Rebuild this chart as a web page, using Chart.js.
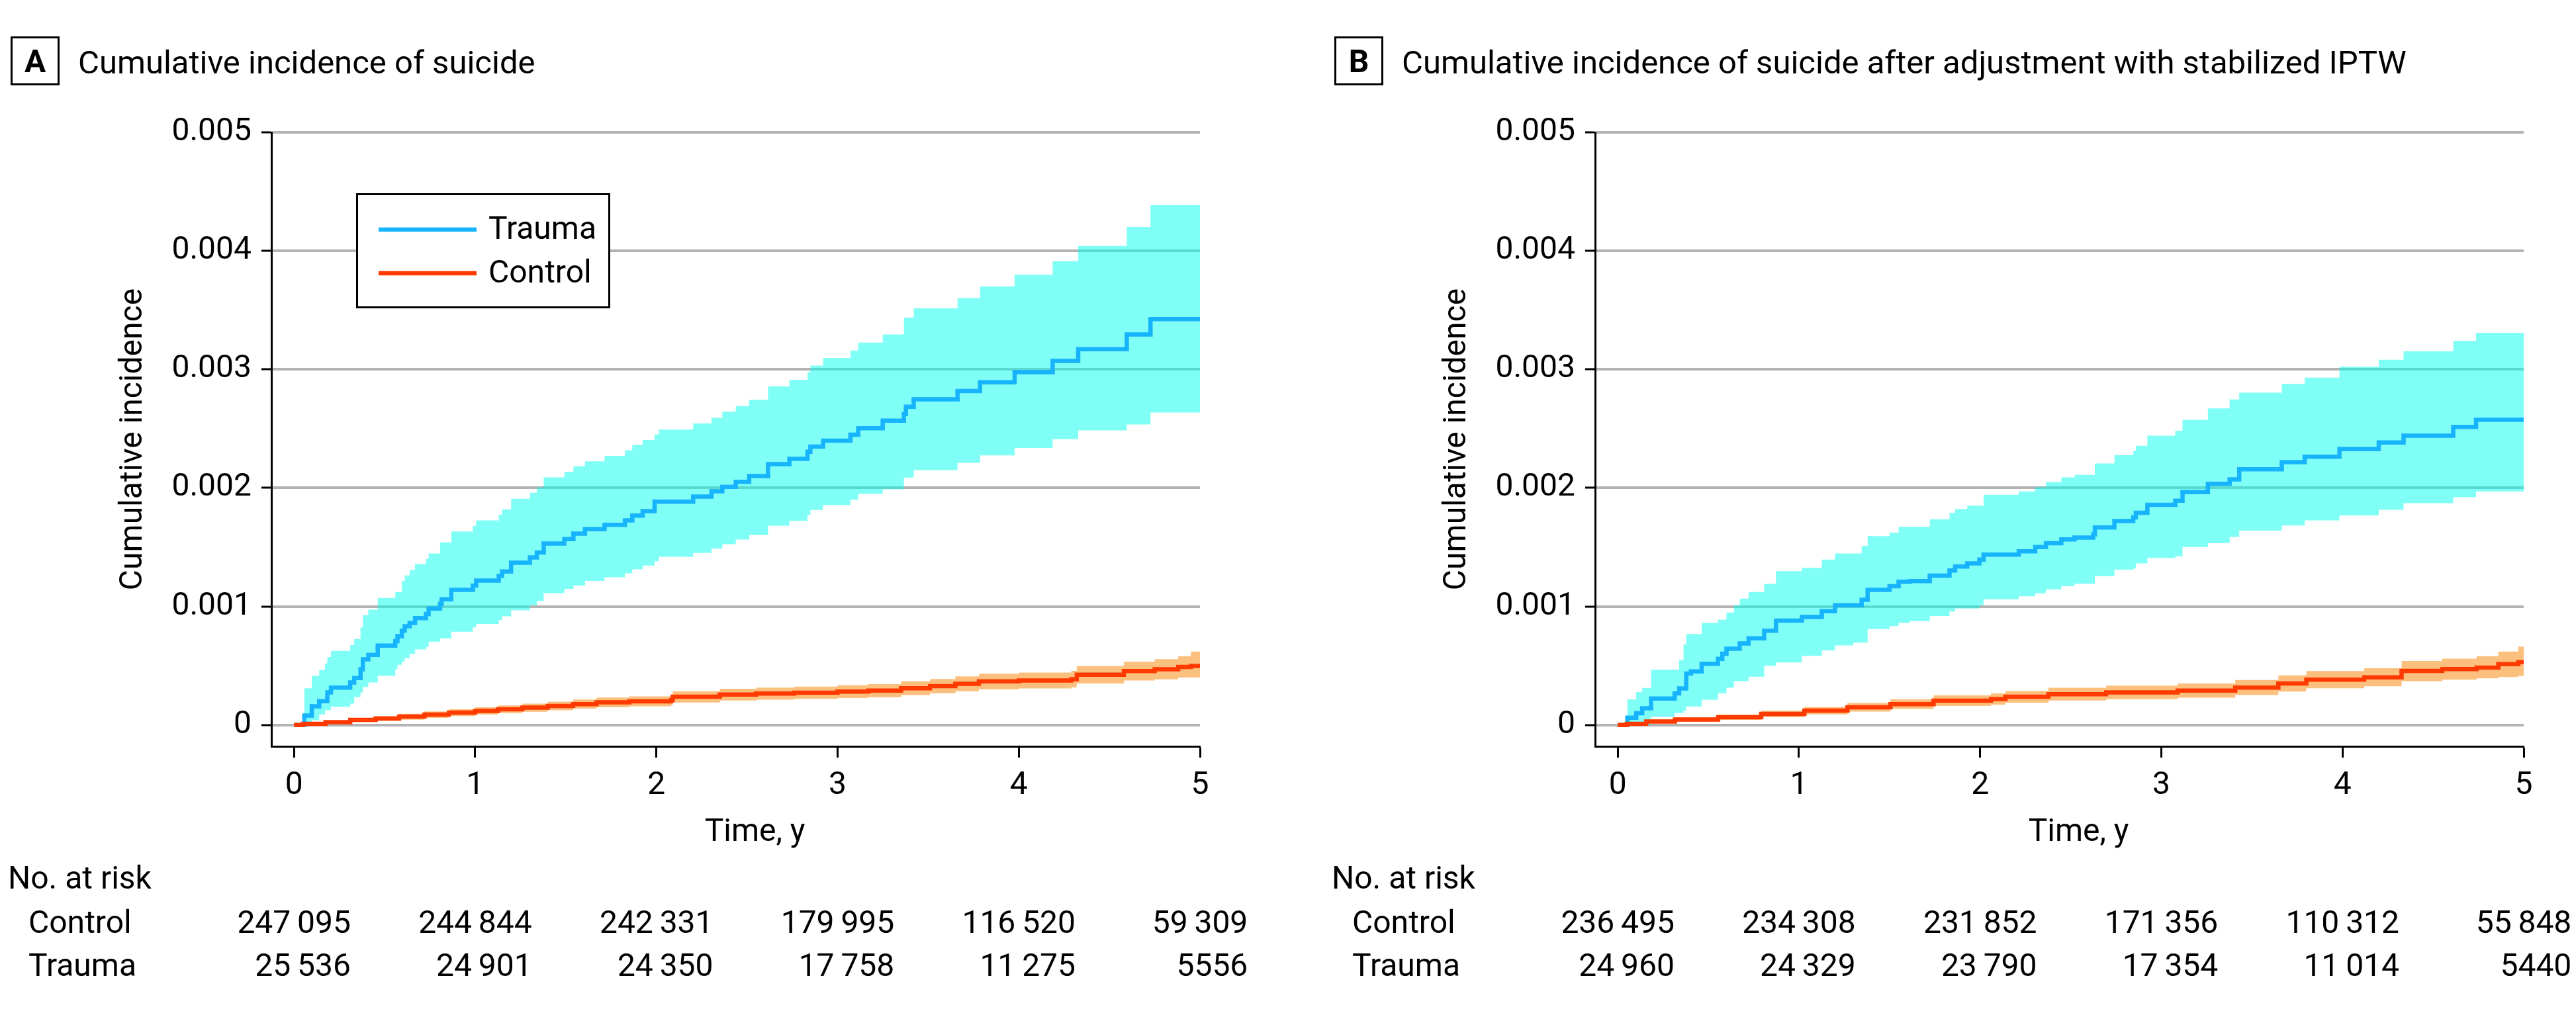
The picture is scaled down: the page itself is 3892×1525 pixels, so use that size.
<!DOCTYPE html>
<html><head><meta charset="utf-8">
<script src="https://cdn.jsdelivr.net/npm/chart.js@4.4.1/dist/chart.umd.min.js"></script>
<style>
html,body{margin:0;padding:0;background:#fff;}
#wrap{display:flex;width:3892px;height:1525px;}
canvas{display:block;}
</style></head><body>
<div id="wrap"><canvas id="cA" width="2000" height="1525"></canvas><canvas id="cB" width="1892" height="1525"></canvas></div>
<script>
// ---------- data (time in years, estimate, lower CI, upper CI) ----------
const traumaA = [
[0,0,0,0],[0.057,0.000080,0.000005,0.000310],[0.098,0.000158,0.000040,0.000415],[0.139,0.000201,0.000090,0.000465],
[0.171,0.000201,0.000126,0.000521],[0.184,0.000275,0.000126,0.000573],[0.204,0.000316,0.000153,0.000625],[0.310,0.000359,0.000180,0.000675],
[0.332,0.000396,0.000236,0.000725],[0.367,0.000470,0.000275,0.000824],[0.380,0.000554,0.000321,0.000926],[0.410,0.000592,0.000359,0.000973],
[0.462,0.000670,0.000415,0.001072],[0.559,0.000707,0.000470,0.001122],[0.571,0.000750,0.000508,0.001122],[0.595,0.000796,0.000536,0.001215],
[0.611,0.000833,0.000564,0.001261],[0.638,0.000861,0.000601,0.001308],[0.668,0.000902,0.000638,0.001358],[0.728,0.000936,0.000657,0.001401],
[0.743,0.000982,0.000703,0.001447],[0.806,0.001023,0.000731,0.001540],[0.815,0.001060,0.000731,0.001540],[0.868,0.001140,0.000787,0.001633],
[0.987,0.001177,0.000824,0.001680],[1.005,0.001218,0.000852,0.001726],[1.130,0.001257,0.000885,0.001773],[1.148,0.001295,0.000917,0.001819],
[1.198,0.001369,0.000967,0.001909],[1.302,0.001414,0.001010,0.001959],[1.340,0.001456,0.001047,0.002006],[1.378,0.001531,0.001112,0.002089],
[1.492,0.001568,0.001149,0.002136],[1.542,0.001614,0.001177,0.002182],[1.606,0.001652,0.001215,0.002225],[1.714,0.001689,0.001246,0.002270],
[1.826,0.001726,0.001280,0.002318],[1.867,0.001767,0.001313,0.002363],[1.924,0.001804,0.001345,0.002405],[1.990,0.001884,0.001382,0.002452],
[2.014,0.001884,0.001419,0.002493],[2.203,0.001927,0.001451,0.002544],[2.304,0.001972,0.001488,0.002591],[2.364,0.002009,0.001525,0.002643],
[2.438,0.002051,0.001565,0.002690],[2.512,0.002100,0.001603,0.002743],[2.616,0.002200,0.001682,0.002857],[2.734,0.002245,0.001722,0.002912],
[2.834,0.002305,0.001772,0.002977],[2.850,0.002349,0.001814,0.003032],[2.920,0.002399,0.001856,0.003096],[3.071,0.002449,0.001901,0.003159],
[3.114,0.002504,0.001951,0.003226],[3.249,0.002568,0.001988,0.003295],[3.366,0.002623,0.002088,0.003437],[3.377,0.002685,0.002088,0.003437],
[3.420,0.002748,0.002150,0.003515],[3.662,0.002817,0.002212,0.003602],[3.786,0.002892,0.002275,0.003699],[3.977,0.002977,0.002337,0.003798],
[4.187,0.003071,0.002412,0.003913],[4.328,0.003171,0.002486,0.004042],[4.596,0.003295,0.002536,0.004202],[4.727,0.003425,0.002636,0.004386],
[5.000,0.003425,0.002636,0.004386]];

const controlA = [
[0,0,0,0],[0.05,0.000010,0.000000,0.000020],[0.174,0.000024,0.000010,0.000040],[0.31,0.000043,0.000025,0.000060],
[0.45,0.000055,0.000035,0.000075],[0.58,0.000071,0.000045,0.000095],[0.72,0.000088,0.000060,0.000115],[0.855,0.000104,0.000075,0.000133],
[1.0,0.000118,0.000088,0.000150],[1.125,0.000132,0.000100,0.000165],[1.26,0.000146,0.000112,0.000180],[1.40,0.000160,0.000124,0.000197],
[1.54,0.000176,0.000138,0.000215],[1.67,0.000191,0.000150,0.000232],[1.85,0.000200,0.000158,0.000242],[2.08,0.000210,0.000166,0.000254],
[2.09,0.000238,0.000190,0.000285],[2.35,0.000257,0.000207,0.000305],[2.55,0.000265,0.000214,0.000315],[2.76,0.000272,0.000220,0.000324],
[3.0,0.000282,0.000228,0.000336],[3.17,0.000290,0.000235,0.000345],[3.35,0.000310,0.000252,0.000368],[3.51,0.000328,0.000268,0.000388],
[3.65,0.000348,0.000285,0.000410],[3.78,0.000368,0.000302,0.000432],[4.0,0.000375,0.000308,0.000442],[4.29,0.000387,0.000318,0.000456],
[4.32,0.000424,0.000350,0.000498],[4.58,0.000455,0.000375,0.000535],[4.75,0.000470,0.000385,0.000555],[4.88,0.000490,0.000400,0.000580],
[4.95,0.000498,0.000400,0.000620],[5.0,0.000498,0.000400,0.000620]];

const traumaB = [
[0,0,0,0],[0.053,0.000061,0,0.000216],[0.102,0.000099,0,0.000279],[0.135,0.000141,0,0.000313],
[0.184,0.000223,0.000070,0.000466],[0.314,0.000266,0.000100,0.000466],[0.339,0.000309,0.000100,0.000550],[0.363,0.000309,0.000120,0.000680],
[0.378,0.000434,0.000156,0.000768],[0.404,0.000452,0.000156,0.000768],[0.463,0.000517,0.000212,0.000861],[0.553,0.000558,0.000268,0.000889],
[0.577,0.000601,0.000268,0.000889],[0.600,0.000643,0.000314,0.000949],[0.641,0.000643,0.000370,0.001010],[0.673,0.000688,0.000370,0.001066],
[0.722,0.000731,0.000407,0.001122],[0.808,0.000796,0.000500,0.001190],[0.873,0.000880,0.000528,0.001298],[1.016,0.000911,0.000584,0.001326],
[1.126,0.000960,0.000630,0.001395],[1.199,0.001010,0.000671,0.001447],[1.300,0.001010,0.000695,0.001447],[1.346,0.001057,0.000695,0.001511],
[1.379,0.001140,0.000810,0.001593],[1.500,0.001171,0.000834,0.001623],[1.550,0.001209,0.000861,0.001672],[1.612,0.001214,0.000876,0.001672],
[1.722,0.001260,0.000919,0.001734],[1.831,0.001303,0.000957,0.001790],[1.862,0.001337,0.000983,0.001822],[1.929,0.001363,0.000983,0.001850],
[1.996,0.001395,0.001011,0.001850],[2.019,0.001438,0.001060,0.001943],[2.213,0.001465,0.001085,0.001971],[2.304,0.001502,0.001111,0.002007],
[2.363,0.001534,0.001145,0.002050],[2.448,0.001566,0.001171,0.002089],[2.521,0.001581,0.001192,0.002110],[2.624,0.001608,0.001192,0.002110],
[2.633,0.001666,0.001256,0.002206],[2.741,0.001721,0.001310,0.002276],[2.845,0.001751,0.001320,0.002313],[2.859,0.001790,0.001363,0.002355],
[2.923,0.001858,0.001410,0.002441],[3.077,0.001892,0.001423,0.002483],[3.117,0.001965,0.001502,0.002575],[3.257,0.002035,0.001534,0.002671],
[3.377,0.002072,0.001587,0.002746],[3.430,0.002157,0.001640,0.002804],[3.665,0.002217,0.001683,0.002878],[3.791,0.002264,0.001726,0.002930],
[3.983,0.002328,0.001768,0.003023],[4.200,0.002383,0.001815,0.003081],[4.337,0.002441,0.001871,0.003152],[4.611,0.002515,0.001922,0.003241],
[4.737,0.002575,0.001971,0.003309],[5.000,0.002575,0.001971,0.003309]];

const controlB = [
[0,0,0,0],[0.05,0.000010,0,0.000020],[0.157,0.000030,0.000015,0.000048],[0.316,0.000046,0.000028,0.000066],
[0.554,0.000065,0.000043,0.000088],[0.792,0.000093,0.000066,0.000120],[1.03,0.000121,0.000090,0.000152],[1.268,0.000149,0.000113,0.000185],
[1.505,0.000176,0.000136,0.000216],[1.743,0.000205,0.000160,0.000250],[2.06,0.000219,0.000172,0.000266],[2.14,0.000238,0.000188,0.000288],
[2.377,0.000260,0.000206,0.000314],[2.695,0.000275,0.000218,0.000332],[3.09,0.000290,0.000230,0.000350],[3.408,0.000316,0.000252,0.000380],
[3.646,0.000350,0.000282,0.000418],[3.80,0.000383,0.000310,0.000455],[4.12,0.000402,0.000326,0.000478],[4.326,0.000456,0.000370,0.000540],
[4.55,0.000471,0.000382,0.000560],[4.74,0.000484,0.000393,0.000580],[4.86,0.000513,0.000405,0.000620],[4.97,0.000530,0.000413,0.000662],
[5.0,0.000530,0.000413,0.000662]];

const riskTimes = [0, 1, 2, 3, 4, 5];
const riskControlA = [247095, 244844, 242331, 179995, 116520, 59309];
const riskTraumaA  = [25536, 24901, 24350, 17758, 11275, 5556];
const riskControlB = [236495, 234308, 231852, 171356, 110312, 55848];
const riskTraumaB  = [24960, 24329, 23790, 17354, 11014, 5440];

const yTicks = [0, 0.001, 0.002, 0.003, 0.004, 0.005];
const xTicks = [0, 1, 2, 3, 4, 5];

// ---------- styling ----------
const FONT = "Roboto, 'Liberation Sans', Arial, sans-serif";
const C_TRAUMA = '#17b3fc', C_CONTROL = '#ff3a00';
const C_TRAUMA_BAND = 'rgba(0,255,238,0.5)', C_CONTROL_BAND = 'rgba(250,150,40,0.6)';
Chart.defaults.font.family = FONT;
Chart.defaults.color = '#000';

function fmt(n){ const s = String(n); return n >= 10000 ? s.slice(0, s.length-3) + '\u2009' + s.slice(-3) : s; }

const decoPlugin = {
  id: 'deco',
  afterDraw(chart, args, o) {
    const ctx = chart.ctx, xs = chart.scales.x;
    ctx.save();
    ctx.fillStyle = '#000'; ctx.strokeStyle = '#000';
    // panel letter box + title
    ctx.lineWidth = 3;
    ctx.strokeRect(17.5, 56.5, 71, 71);
    ctx.font = 'bold 48px ' + FONT; ctx.textAlign = 'center'; ctx.textBaseline = 'alphabetic';
    ctx.fillText(o.letter, 53, 109);
    ctx.font = '49px ' + FONT; ctx.textAlign = 'left';
    ctx.fillText(o.title, 118, 111);
    // x axis title
    ctx.font = '48px ' + FONT; ctx.textAlign = 'center';
    ctx.fillText('Time, y', (xs.getPixelForValue(0) + xs.getPixelForValue(5)) / 2 + 12, 1271);
    // risk table
    ctx.textAlign = 'left';
    ctx.fillText('No. at risk', 12, 1343);
    ctx.fillText('Control', 43, 1410);
    ctx.fillText('Trauma', 43, 1475);
    ctx.textAlign = 'right';
    riskTimes.forEach((t, i) => {
      const cs = fmt(o.control[i]), ts = fmt(o.trauma[i]);
      const right = xs.getPixelForValue(t) + ctx.measureText(cs).width / 2;
      ctx.fillText(cs, right, 1410);
      ctx.fillText(ts, right, 1475);
    });
    // legend
    if (o.legend) {
      ctx.fillStyle = '#fff';
      ctx.fillRect(538, 292, 384, 174);
      ctx.lineWidth = 3; ctx.strokeStyle = '#000';
      ctx.strokeRect(539.5, 293.5, 381, 171);
      const items = [[chart.data.datasets[1].label, C_TRAUMA, 347], [chart.data.datasets[0].label, C_CONTROL, 413]];
      ctx.font = '48px ' + FONT; ctx.textAlign = 'left'; ctx.textBaseline = 'middle';
      items.forEach(([lab, col, y]) => {
        ctx.strokeStyle = col; ctx.lineWidth = 6.5;
        ctx.beginPath(); ctx.moveTo(572, y); ctx.lineTo(720, y); ctx.stroke();
        ctx.fillStyle = '#000'; ctx.fillText(lab, 738, y + 2);
      });
    }
    ctx.restore();
  }
};

function lineDs(label, rows, color) {
  return { label, data: rows.map(r => ({x: r[0], y: r[1]})), borderColor: color, borderWidth: 6.5,
    stepped: true, pointRadius: 0, fill: false, borderCapStyle: 'butt', borderJoinStyle: 'miter' };
}
function bandDs(label, rows, col, color, fill) {
  return { label, data: rows.map(r => ({x: r[0], y: r[col]})), borderColor: 'rgba(0,0,0,0)', borderWidth: 0,
    backgroundColor: color, stepped: true, pointRadius: 0, fill };
}

function makeChart(id, width, trauma, control, deco) {
  return new Chart(document.getElementById(id), {
    type: 'line',
    data: { datasets: [
      lineDs('Control', control, C_CONTROL),
      lineDs('Trauma', trauma, C_TRAUMA),
      bandDs('Trauma upper', trauma, 3, C_TRAUMA_BAND, '+1'),
      bandDs('Trauma lower', trauma, 2, C_TRAUMA_BAND, false),
      bandDs('Control upper', control, 3, C_CONTROL_BAND, '+1'),
      bandDs('Control lower', control, 2, C_CONTROL_BAND, false)
    ]},
    options: {
      responsive: false, animation: false, devicePixelRatio: 1,
      layout: { padding: { left: 0, top: 200, right: width - 1813, bottom: 317 } },
      plugins: { legend: { display: false }, tooltip: { enabled: false }, deco },
      scales: {
        x: {
          type: 'linear', min: -0.125, max: 5,
          afterFit: s => { s.height = 80; },
          afterBuildTicks: s => { s.ticks = xTicks.map(v => ({value: v})); },
          ticks: { font: { size: 48 }, color: '#000', padding: 14, maxRotation: 0, callback: v => String(v) },
          grid: { drawOnChartArea: false, drawTicks: true, tickLength: 17, tickColor: '#000', tickWidth: 3 },
          border: { display: true, color: '#000', width: 3 }
        },
        y: {
          type: 'linear', min: -0.00018, max: 0.005,
          afterFit: s => { s.width = 410; },
          afterBuildTicks: s => { s.ticks = yTicks.map(v => ({value: v})); },
          ticks: { font: { size: 48 }, color: '#000', padding: 15, callback: v => v === 0 ? '0' : v.toFixed(3) },
          grid: { color: '#b3b3b3', lineWidth: 4, tickLength: 15, tickColor: '#000', tickWidth: 3 },
          border: { display: true, color: '#000', width: 3 },
          title: { display: true, text: 'Cumulative incidence', font: { size: 48 }, color: '#000', padding: { top: 173, bottom: 0 } }
        }
      }
    },
    plugins: [decoPlugin]
  });
}

makeChart('cA', 2000, traumaA, controlA, { letter: 'A', title: 'Cumulative incidence of suicide', legend: true, control: riskControlA, trauma: riskTraumaA });
makeChart('cB', 1892, traumaB, controlB, { letter: 'B', title: 'Cumulative incidence of suicide after adjustment with stabilized IPTW', legend: false, control: riskControlB, trauma: riskTraumaB });
</script>
</body></html>
